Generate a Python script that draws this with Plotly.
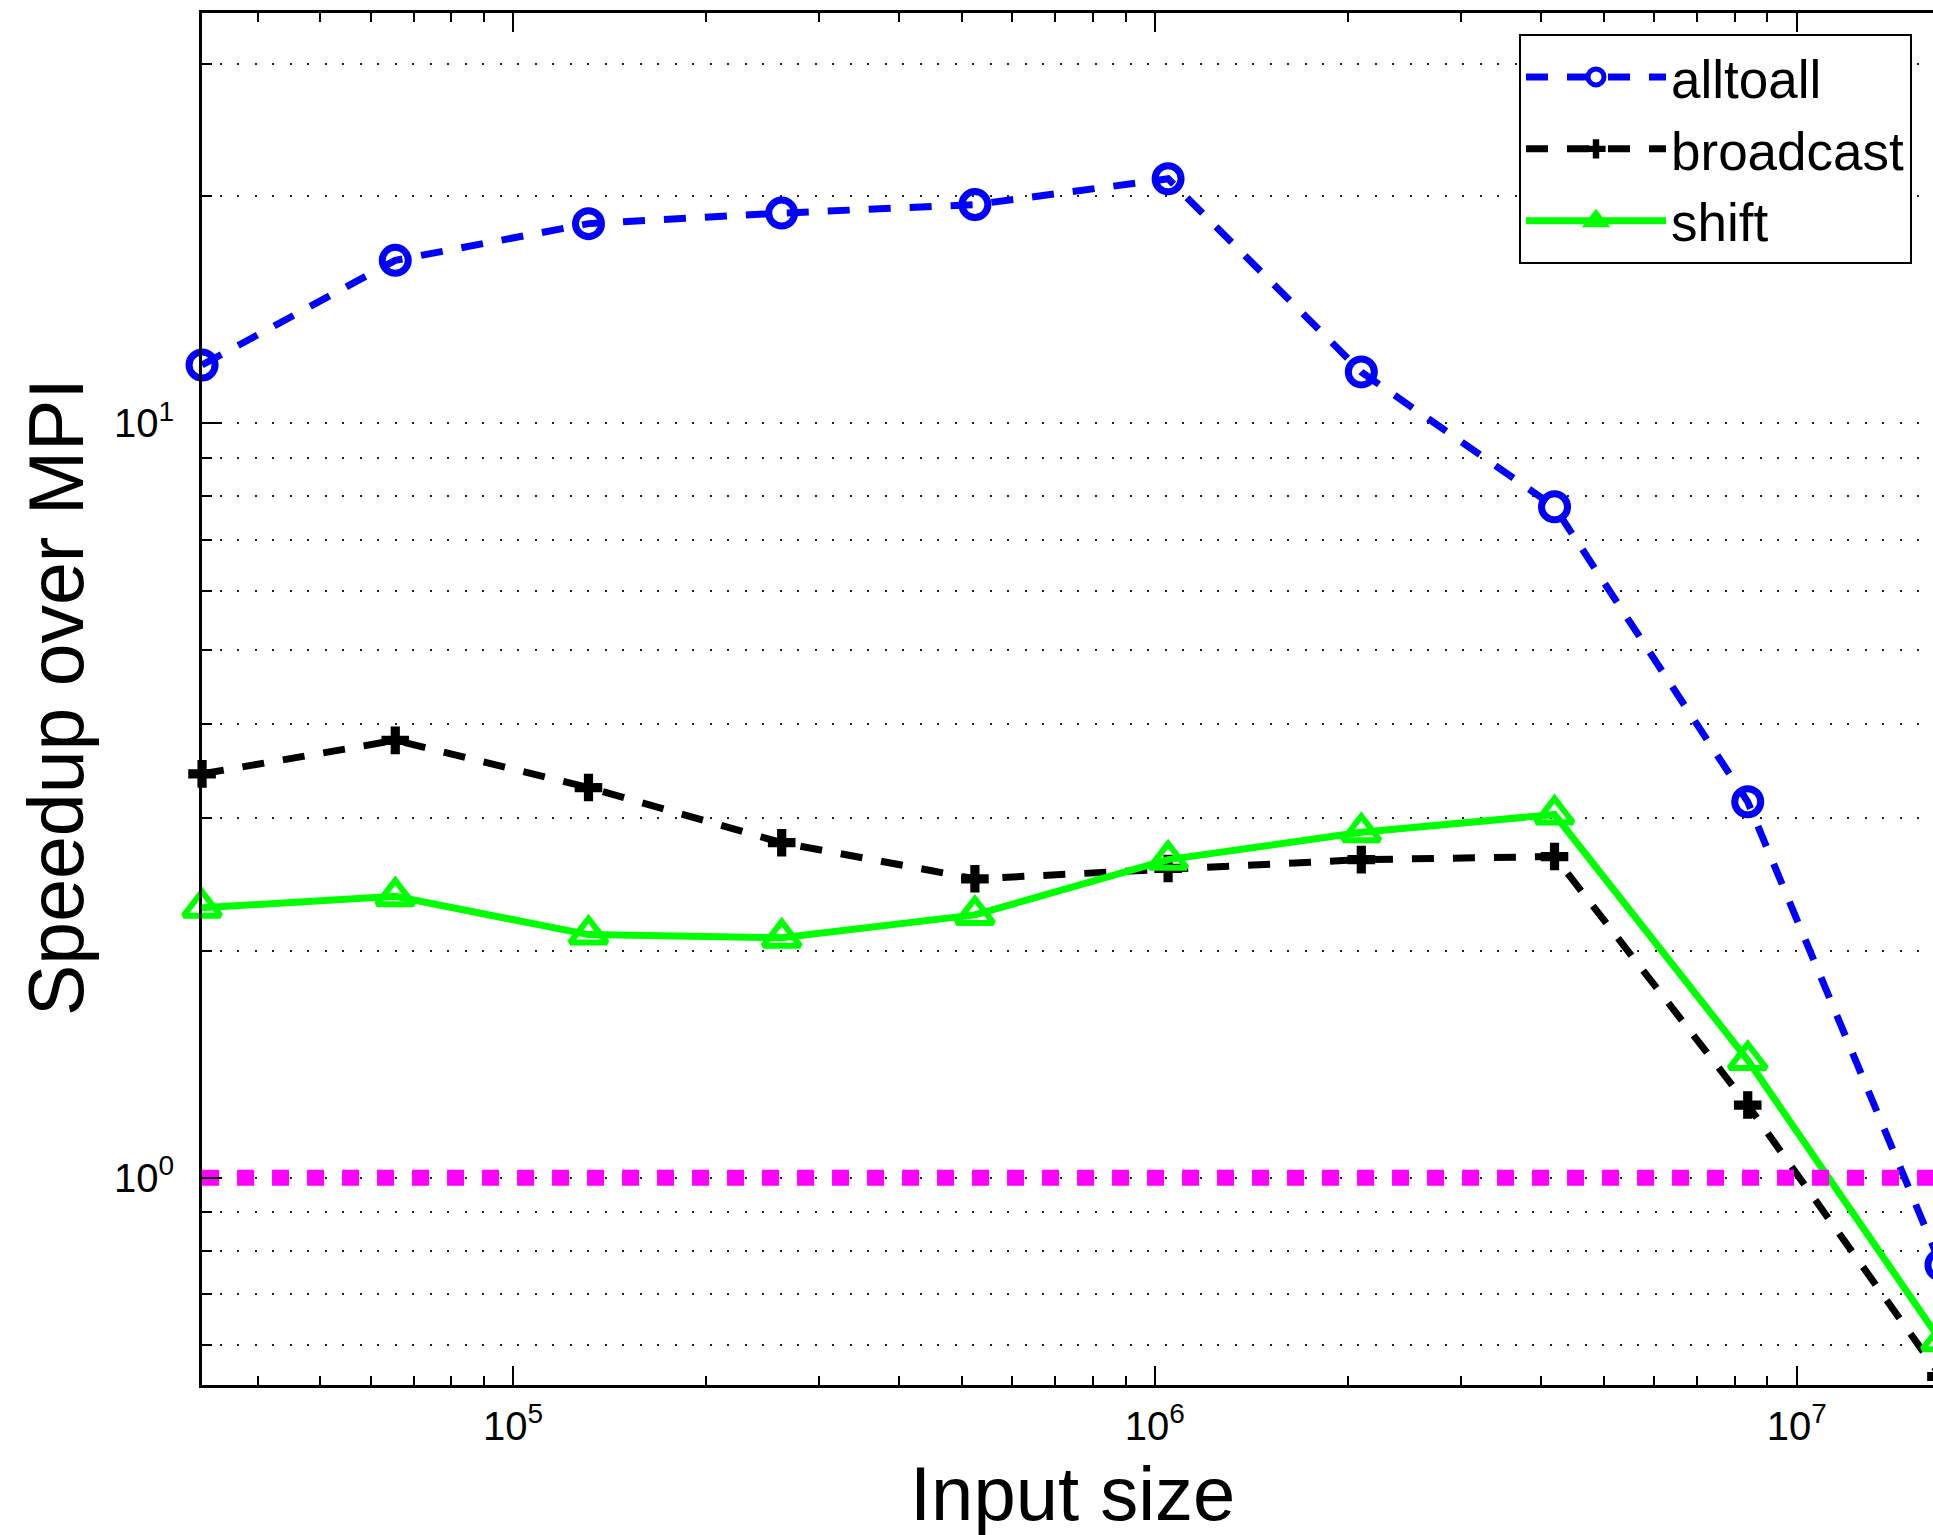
import plotly.graph_objects as go
import math

# ---- data ----
input_sizes = [32768, 65536, 131072, 262144, 524288, 1048576,
               2097152, 4194304, 8388608, 16777216]
alltoall = [11.95, 16.45, 18.4, 19.0, 19.5, 21.1, 11.7, 7.75, 3.15, 0.766]
broadcast = [3.43, 3.80, 3.29, 2.78, 2.49, 2.57, 2.64, 2.665, 1.248, 0.545]
shift = [2.28, 2.36, 2.10, 2.08, 2.23, 2.64, 2.87, 3.03, 1.432, 0.607]
baseline = [1.0, 1.0]

x_major = [1e5, 1e6, 1e7]
x_major_text = ["10<sup>5</sup>", "10<sup>6</sup>", "10<sup>7</sup>"]
x_minor = [m * 10 ** e for e in (4, 5, 6, 7) for m in range(2, 10)]
y_major = [1, 10]
y_major_text = ["10<sup>0</sup>", "10<sup>1</sup>"]
y_minor = [0.6, 0.7, 0.8, 0.9, 2, 3, 4, 5, 6, 7, 8, 9, 20, 30]

FONT = "Liberation Sans, Arial, Helvetica, sans-serif"

fig = go.Figure()
fig.add_trace(go.Scatter(
    x=input_sizes, y=alltoall, name="alltoall", mode="lines+markers",
    line=dict(color="#0000FF", width=7, dash="22px,19px"),
    marker=dict(symbol="circle-open", size=26, color="#0000FF",
                line=dict(width=7, color="#0000FF")),
    cliponaxis=False))
fig.add_trace(go.Scatter(
    x=input_sizes, y=broadcast, name="broadcast", mode="lines+markers",
    line=dict(color="#000000", width=7, dash="22px,19px"),
    marker=dict(symbol="cross", size=23, color="#000000",
                line=dict(width=0)),
    cliponaxis=False))
fig.add_trace(go.Scatter(
    x=input_sizes, y=shift, name="shift", mode="lines+markers",
    line=dict(color="#00FF00", width=7),
    marker=dict(symbol="triangle-up-open", size=32, color="#00FF00",
                line=dict(width=6, color="#00FF00")),
    cliponaxis=False))
fig.add_trace(go.Scatter(
    x=[input_sizes[0], input_sizes[-1]], y=baseline, mode="lines",
    line=dict(color="#FF00FF", width=16, dash="17px,18px"),
    showlegend=False, hoverinfo="skip"))

# The original figure extends 8 px past the right edge of the picture.
W, H = 1941, 1535
ml, mr, mt, mb = 202, 0, 13, 150
pw = W - ml - mr
ph = H - mt - mb

eps = 1e-4
xlo = math.log10(input_sizes[0]) - eps
xhi = math.log10(input_sizes[-1]) + eps

fig.update_layout(
    width=W, height=H,
    margin=dict(l=ml, r=mr, t=mt, b=mb, autoexpand=False),
    paper_bgcolor="white", plot_bgcolor="white",
    font=dict(family=FONT, color="black", size=40),
    showlegend=True,
    legend=dict(
        x=(1519 - ml) / pw, y=(H - mb - 34) / ph,
        xanchor="left", yanchor="top",
        bgcolor="white", bordercolor="black", borderwidth=2,
        font=dict(family=FONT, size=53, color="black"),
        itemwidth=140, tracegroupgap=0,
    ),
)

fig.update_xaxes(
    type="log", range=[xlo, xhi],
    showline=True, linecolor="black", linewidth=3, mirror="ticks",
    ticks="inside", ticklen=19, tickwidth=2, tickcolor="black",
    tickmode="array", tickvals=x_major, ticktext=x_major_text,
    tickfont=dict(family=FONT, size=40, color="black"),
    ticklabelstandoff=4,
    showgrid=False, zeroline=False,
    minor=dict(tickmode="array", tickvals=x_minor, ticks="inside",
               ticklen=9, tickwidth=2, tickcolor="black", showgrid=False),
)
fig.update_yaxes(
    type="log", range=[math.log10(0.531), math.log10(35)],
    showline=True, linecolor="black", linewidth=3, mirror=False,
    ticks="inside", ticklen=20, tickwidth=2, tickcolor="black",
    tickmode="array", tickvals=y_major, ticktext=y_major_text,
    tickfont=dict(family=FONT, size=40, color="black"),
    ticklabelstandoff=17,
    showgrid=True, gridcolor="#222222", gridwidth=2, griddash="2px,15.5px",
    zeroline=False,
    minor=dict(tickmode="array", tickvals=y_minor, ticks="inside",
               ticklen=10, tickwidth=2, tickcolor="black",
               showgrid=True, gridcolor="#222222", gridwidth=2,
               griddash="2px,15.5px"),
)

fig.add_annotation(
    text="Input size", xref="paper", yref="paper",
    x=(1072 - ml) / pw, y=-(1493 - (H - mb)) / ph,
    xanchor="center", yanchor="middle", showarrow=False,
    font=dict(family=FONT, size=76, color="black"))
fig.add_annotation(
    text="Speedup over MPI", xref="paper", yref="paper",
    x=(56 - ml) / pw, y=((H - mb) - 697) / ph,
    xanchor="center", yanchor="middle", showarrow=False, textangle=-90,
    font=dict(family=FONT, size=77, color="black"))

fig.write_html(
    "out.html",
    config={"displayModeBar": False},
    post_script="document.body.style.margin='0';"
                "document.body.style.overflow='hidden';")
